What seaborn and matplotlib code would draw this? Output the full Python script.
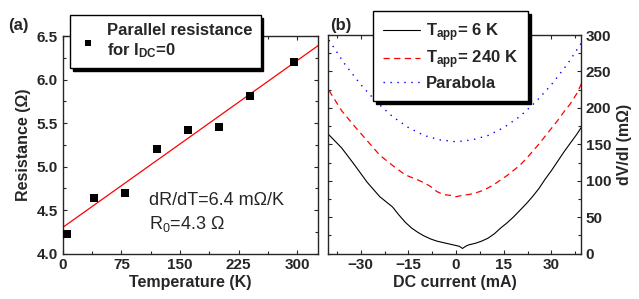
import matplotlib
matplotlib.use("Agg")
import matplotlib.pyplot as plt
import seaborn as sns
import pandas as pd
from matplotlib.ticker import MultipleLocator, FormatStrFormatter

# (a) parallel resistance vs temperature
temp_k = [6, 40, 80, 120, 160, 200, 240, 296]
resistance = [4.23, 4.64, 4.70, 5.20, 5.42, 5.46, 5.81, 6.20]
fit_r0 = 4.3        # ohm
fit_slope = 0.0064  # ohm / K

# (b) dV/dI vs DC current
i_black = [-40, -36, -32, -28, -24, -20, -18, -16, -14, -12, -10, -8, -6, -4, -2,
           0, 1, 2, 3, 4, 6, 8, 10, 12, 14, 16, 18, 20, 22, 24, 26, 28, 30, 32,
           34, 36, 38, 39.5]
dvdi_6k = [163, 145, 122, 98, 78, 64, 53, 43, 35, 29, 24, 20, 17, 15, 13,
           11, 10, 7, 10, 12, 14, 17, 21, 27, 35, 42, 50, 59, 68, 78, 89, 102, 114, 127,
           140, 152, 164, 174]
i_red = [-40, -36, -32, -28, -24, -20, -16, -12, -10, -8, -6, -4, -2, 0, 2, 4, 6,
         8, 10, 12, 14, 16, 18, 20, 22, 24, 26, 28, 30, 32, 34, 36, 38, 39.5]
dvdi_240k = [224, 196, 175, 155, 135, 121, 108, 101, 97, 92, 85, 81, 80, 78, 80, 81, 83,
             86, 90, 95, 101, 107, 114, 121, 130, 140, 150, 161, 172, 183, 195, 206, 220, 234]
i_par = [-40, -35, -30, -25, -20, -15, -10, -5, 0, 5, 10, 15, 20, 25, 30, 35, 40]
dvdi_par = [293, 260, 232, 208, 188, 173, 162, 156, 153.5, 156, 162, 173, 188, 208, 232, 260, 293]

sns.set_style("ticks")
plt.rcParams["font.family"] = ["Liberation Sans", "DejaVu Sans"]
plt.rcParams["font.weight"] = "bold"
plt.rcParams["mathtext.default"] = "regular"
plt.rcParams["axes.linewidth"] = 1.0
for a in ("x", "y"):
    plt.rcParams[f"{a}tick.direction"] = "in"
    plt.rcParams[f"{a}tick.major.size"] = 3
    plt.rcParams[f"{a}tick.minor.size"] = 2
    plt.rcParams[f"{a}tick.major.width"] = 0.8
    plt.rcParams[f"{a}tick.minor.width"] = 0.8

fig = plt.figure(figsize=(6.39, 2.99), dpi=100)
ax1 = fig.add_axes([0.0981, 0.152, 0.399, 0.7274])
ax2 = fig.add_axes([0.5138, 0.152, 0.395, 0.7308])

shadow = {"color": "black", "alpha": 1}
fs = 11

# ---- panel (a)
df_a = pd.DataFrame({"T": temp_k, "R": resistance})
sns.scatterplot(data=df_a, x="T", y="R", ax=ax1, marker="s", s=28, color="black",
                edgecolor="black", linewidth=0, label="Parallel resistance\nfor I$_{DC}$=0", zorder=3)
t_fit = [0, 330]
r_fit = [fit_r0 + fit_slope * t for t in t_fit]
sns.lineplot(x=t_fit, y=r_fit, ax=ax1, color="red", linewidth=0.9, legend=False)

ax1.set_xlim(0, 326)
ax1.set_ylim(4.0, 6.5)
ax1.xaxis.set_major_locator(MultipleLocator(75))
ax1.xaxis.set_minor_locator(MultipleLocator(37.5))
ax1.yaxis.set_major_locator(MultipleLocator(0.5))
ax1.yaxis.set_minor_locator(MultipleLocator(0.25))
ax1.yaxis.set_major_formatter(FormatStrFormatter("%.1f"))
ax1.tick_params(which="both", top=True, right=True, labelsize=fs)
ax1.set_xlabel("Temperature (K)", fontsize=fs + 0.5, fontweight="bold", labelpad=2)
ax1.set_ylabel("Resistance (Ω)", fontsize=fs + 0.5, fontweight="bold", labelpad=4)
ax1.text(0.338, 0.223, "dR/dT=6.4 mΩ/K", transform=ax1.transAxes, fontsize=13,
         fontweight="normal", va="baseline")
ax1.text(0.338, 0.113, "R$_0$=4.3 Ω", transform=ax1.transAxes, fontsize=13,
         fontweight="normal", va="baseline")
leg1 = ax1.legend(loc="upper left", bbox_to_anchor=(0.029, 1.097), borderaxespad=0,
                  frameon=True, fancybox=False, edgecolor="black", shadow=shadow,
                  prop={"weight": "bold", "size": 12}, handlelength=1.2,
                  handletextpad=0.5, borderpad=0.5, markerscale=0.85)
leg1.get_frame().set_linewidth(1.0)
leg1.get_frame().set_alpha(1)
fig.text(0.012, 0.90, "(a)", fontsize=12, fontweight="bold")

# ---- panel (b)
sns.lineplot(x=i_black, y=dvdi_6k, ax=ax2, color="black", linewidth=0.8,
             label="T$_{app}$= 6 K")
sns.lineplot(x=i_red, y=dvdi_240k, ax=ax2, color="red", linewidth=0.9,
             label="T$_{app}$= 240 K")
ax2.lines[-1].set_linestyle((0, (5, 3.5)))
sns.lineplot(x=i_par, y=dvdi_par, ax=ax2, color="blue", linewidth=1.0,
             label="Parabola")
ax2.lines[-1].set_linestyle((0, (1, 4)))

ax2.set_xlim(-40.2, 39.2)
ax2.set_ylim(0, 300)
ax2.xaxis.set_major_locator(MultipleLocator(15))
ax2.xaxis.set_minor_locator(MultipleLocator(7.5))
ax2.yaxis.set_major_locator(MultipleLocator(50))
ax2.yaxis.set_minor_locator(MultipleLocator(25))
ax2.tick_params(which="both", top=True, left=True, right=True, labelleft=False,
                labelright=True, labelsize=fs)
ax2.yaxis.set_label_position("right")
ax2.set_xlabel("DC current (mA)", fontsize=fs + 0.5, fontweight="bold", labelpad=2)
ax2.set_ylabel("dV/dI (mΩ)", fontsize=fs + 0.5, fontweight="bold", labelpad=4)
leg2 = ax2.legend(loc="upper left", bbox_to_anchor=(0.177, 1.11), borderaxespad=0,
                  frameon=True, fancybox=False, edgecolor="black", shadow=shadow,
                  prop={"weight": "bold", "size": 12}, handlelength=2.2,
                  handletextpad=0.4, borderpad=0.6, labelspacing=0.3)
leg2.get_frame().set_linewidth(1.0)
leg2.get_frame().set_alpha(1)
fig.text(0.517, 0.90, "(b)", fontsize=12, fontweight="bold")

fig.savefig("out.png", dpi=100)
